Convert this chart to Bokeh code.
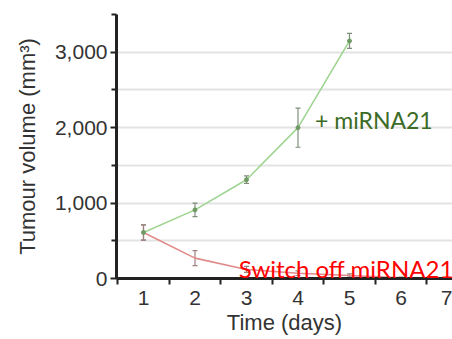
from bokeh.plotting import figure
from bokeh.models import FixedTicker, Whisker, ColumnDataSource, TeeHead, Range1d, Label
from bokeh.embed import file_html
from bokeh.resources import INLINE

days_on = [1, 2, 3, 4, 5]
vol_on = [610, 910, 1310, 2000, 3150]
err_on = [100, 90, 50, 260, 100]

days_off = [1, 2, 3, 4, 5, 6]
vol_off = [610, 270, 120, 70, 40, 8]
err_off = [100, 100, 40, 30, 20, 10]

y_major = [0, 1000, 2000, 3000]
y_minor = [500, 1500, 2500, 3500]
y_labels = {0: "0", 1000: "1,000", 2000: "2,000", 3000: "3,000"}
x_major = [1, 2, 3, 4, 5, 6, 7]
x_minor = [0.5, 1.5, 2.5, 3.5, 4.5, 5.5, 6.5]

p = figure(width=452, height=339, output_backend="svg", toolbar_location=None,
           x_range=Range1d(0.476, 7.0), y_range=Range1d(0, 3500),
           min_border_left=116, min_border_right=0, min_border_top=14, min_border_bottom=61)
p.outline_line_color = None
p.background_fill_color = "white"

p.xgrid.grid_line_color = None
p.ygrid.grid_line_color = "#e3e3e3"
p.ygrid.grid_line_width = 2
p.ygrid.minor_grid_line_color = "#e3e3e3"
p.ygrid.minor_grid_line_width = 2

font = "Liberation Sans"
for ax in (p.xaxis[0], p.yaxis[0]):
    ax.axis_line_color = "#222222"
    ax.axis_line_width = 3
    ax.major_tick_line_color = "#222222"
    ax.minor_tick_line_color = "#222222"
    ax.major_tick_line_width = 2
    ax.minor_tick_line_width = 2
    ax.major_label_text_font = font
    ax.major_label_text_font_size = "21px"
    ax.major_label_text_color = "#333333"
    ax.axis_label_text_font = font
    ax.axis_label_text_font_size = "22px"
    ax.axis_label_text_color = "#333333"
    ax.axis_label_text_font_style = "normal"
    ax.major_tick_in = 0
    ax.minor_tick_in = 0

p.yaxis.ticker = FixedTicker(ticks=y_major, minor_ticks=y_minor)
p.yaxis.major_label_overrides = y_labels
p.yaxis.major_tick_out = 6
p.yaxis.minor_tick_out = 5
p.yaxis.major_label_standoff = 3
p.yaxis.axis_label = "Tumour volume (mm³)"
p.yaxis.axis_label_standoff = 12

p.xaxis.ticker = FixedTicker(ticks=x_major, minor_ticks=x_minor)
p.xaxis.major_tick_out = 0
p.xaxis.minor_tick_out = 6
p.xaxis.major_label_standoff = 6
p.xaxis.axis_label = "Time (days)"
p.xaxis.axis_label_standoff = 2

src_on = ColumnDataSource(dict(x=days_on, y=vol_on,
                               lo=[v - e for v, e in zip(vol_on, err_on)],
                               hi=[v + e for v, e in zip(vol_on, err_on)]))
src_off = ColumnDataSource(dict(x=days_off, y=vol_off,
                                lo=[v - e for v, e in zip(vol_off, err_off)],
                                hi=[v + e for v, e in zip(vol_off, err_off)]))

p.line("x", "y", source=src_off, line_color="#e08a8a", line_width=1.6)
p.line("x", "y", source=src_on, line_color="#9fd491", line_width=1.6)

for src, col in ((src_on, "#7f8f7a"), (src_off, "#a08080")):
    w = Whisker(base="x", lower="lo", upper="hi", source=src, line_color=col, line_width=1.2,
                upper_head=TeeHead(size=5, line_color=col, line_width=1.2),
                lower_head=TeeHead(size=5, line_color=col, line_width=1.2))
    p.add_layout(w)

p.scatter("x", "y", source=src_on, size=4, color="#6f9a62")

p.add_layout(Label(x=4.33, y=2106, text="+ miRNA21", text_font="Lato", text_font_size="23px",
                   text_color="#3b6b24", text_baseline="alphabetic"))
p.add_layout(Label(x=2.85, y=132, text="Switch off miRNA21", text_font="Lato", text_font_size="24px",
                   text_color="#ff0000", text_baseline="alphabetic"))

open("out.html", "w").write(file_html(p, INLINE))
